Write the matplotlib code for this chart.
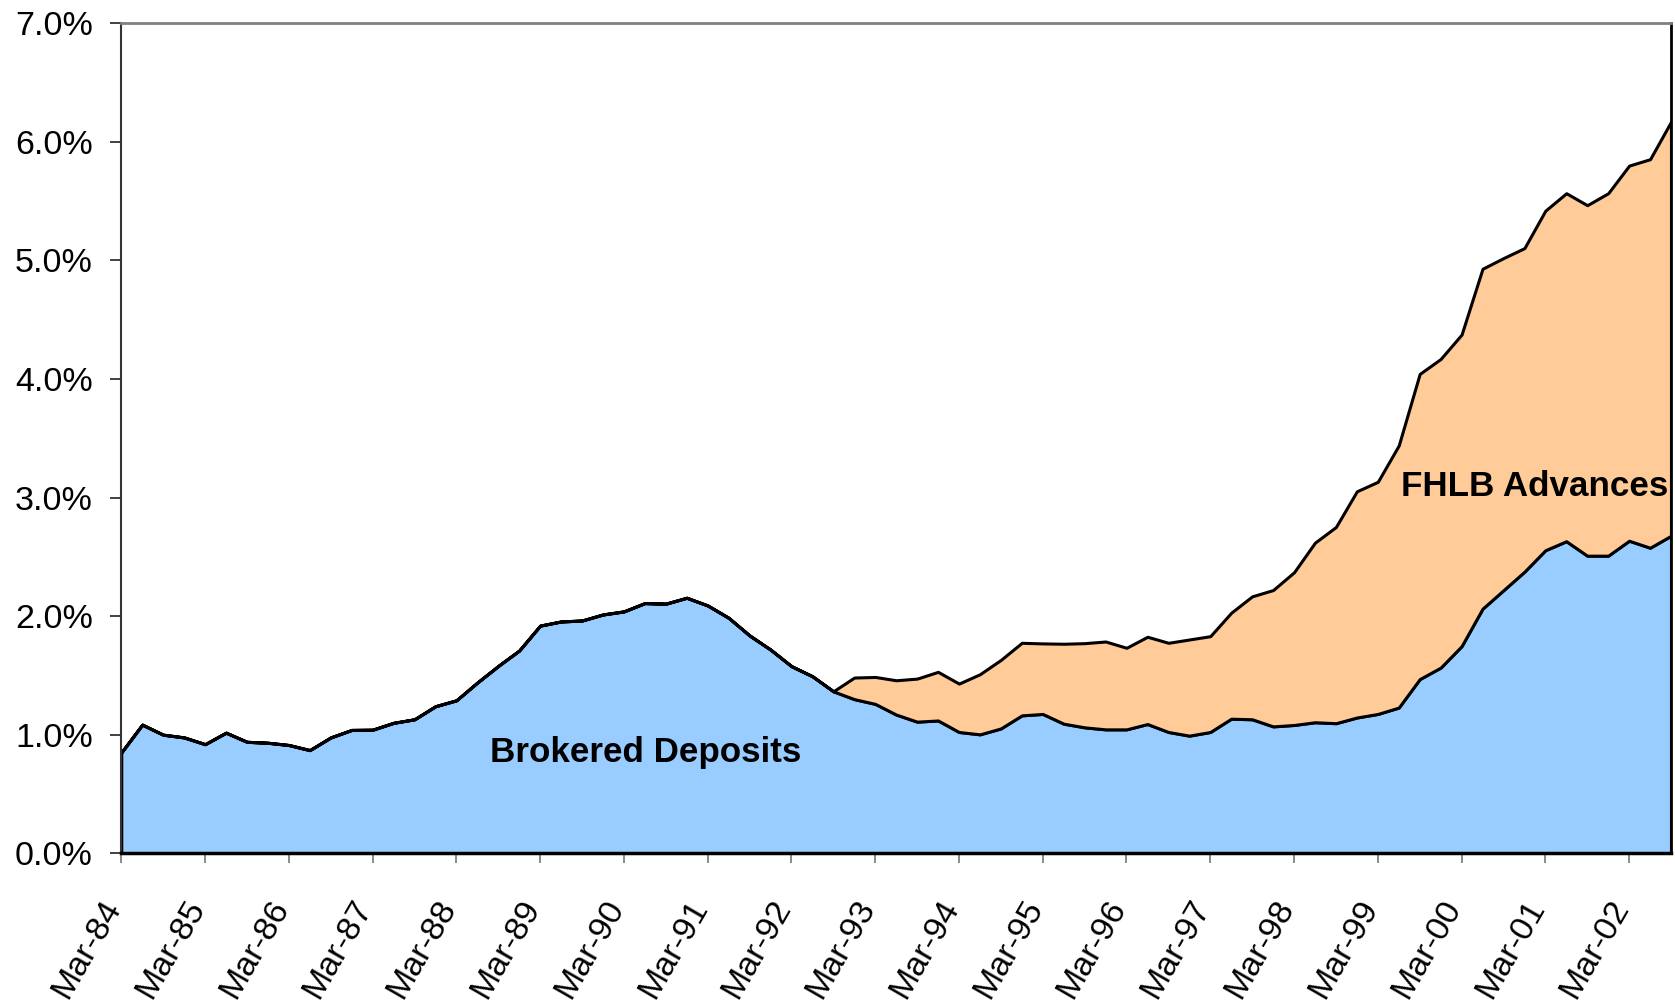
import matplotlib
matplotlib.use("Agg")
import matplotlib.pyplot as plt
import numpy as np

plt.rcParams['font.family'] = ['Liberation Sans', 'DejaVu Sans']

# Quarterly, Mar-84 .. Sep-02 (percent)
brokered = [0.85, 1.085, 1.00, 0.977, 0.92, 1.017, 0.94, 0.932, 0.913, 0.87,
            0.977, 1.04, 1.042, 1.10, 1.13, 1.24, 1.29, 1.44, 1.58, 1.71,
            1.92, 1.955, 1.963, 2.014, 2.04, 2.11, 2.105, 2.155, 2.09, 1.986,
            1.837, 1.718, 1.578, 1.493, 1.366, 1.30, 1.26, 1.17, 1.11, 1.12,
            1.023, 1.003, 1.053, 1.163, 1.175, 1.093, 1.062, 1.045, 1.045, 1.09,
            1.023, 0.992, 1.023, 1.135, 1.13, 1.07, 1.082, 1.105, 1.097, 1.145,
            1.175, 1.229, 1.469, 1.566, 1.747, 2.063, 2.219, 2.375, 2.556, 2.632,
            2.51, 2.51, 2.636, 2.577, 2.678]
total = [0.85, 1.085, 1.00, 0.977, 0.92, 1.017, 0.94, 0.932, 0.913, 0.87,
         0.977, 1.04, 1.042, 1.10, 1.13, 1.24, 1.29, 1.44, 1.58, 1.71,
         1.92, 1.955, 1.963, 2.014, 2.04, 2.11, 2.105, 2.155, 2.09, 1.986,
         1.837, 1.718, 1.578, 1.493, 1.366, 1.482, 1.487, 1.459, 1.473, 1.53,
         1.431, 1.51, 1.631, 1.775, 1.77, 1.767, 1.772, 1.786, 1.733, 1.826,
         1.775, 1.803, 1.831, 2.029, 2.167, 2.22, 2.37, 2.62, 2.752, 3.053,
         3.133, 3.44, 4.043, 4.169, 4.375, 4.93, 5.02, 5.104, 5.42, 5.567,
         5.466, 5.567, 5.80, 5.854, 6.17]
fhlb = [t - b for t, b in zip(total, brokered)]

tick_labels = ['Mar-84', 'Mar-85', 'Mar-86', 'Mar-87', 'Mar-88', 'Mar-89',
               'Mar-90', 'Mar-91', 'Mar-92', 'Mar-93', 'Mar-94', 'Mar-95',
               'Mar-96', 'Mar-97', 'Mar-98', 'Mar-99', 'Mar-00', 'Mar-01', 'Mar-02']
y_ticks = [0, 1, 2, 3, 4, 5, 6, 7]

x = np.arange(len(brokered))

fig = plt.figure(figsize=(16.75, 10.01), dpi=100)
ax = fig.add_axes([0.0724, 0.1476, 0.9252, 0.8291])

ax.stackplot(x, brokered, fhlb, colors=['#99CCFF', '#FFCC99'],
             edgecolor='black', linewidth=2.2)

ax.set_xlim(0, len(x) - 1)
ax.set_ylim(0, 7)
ax.set_yticks(y_ticks)
ax.set_yticklabels([f'{v:.1f}%' for v in y_ticks])
ax.set_xticks(np.arange(0, len(x), 4))
ax.set_xticklabels(tick_labels, rotation=60, ha='right', va='baseline',
                   rotation_mode='anchor')

ax.tick_params(axis='y', labelsize=24.5, length=7.9, width=1.3,
               color='#333333', pad=12.5)
ax.tick_params(axis='x', labelsize=24.5, length=7.2, width=1.3,
               color='#808080', pad=31)

ax.spines['left'].set_color('#333333')
ax.spines['left'].set_linewidth(1.5)
ax.spines['top'].set_color('#808080')
ax.spines['top'].set_linewidth(2)
ax.spines['right'].set_color('black')
ax.spines['right'].set_linewidth(2)
ax.spines['bottom'].set_color('black')
ax.spines['bottom'].set_linewidth(2.5)

ax.text(25.06, 0.85, 'Brokered Deposits', fontsize=25.2, fontweight='bold',
        ha='center', va='center')
ax.text(67.5, 3.09, 'FHLB Advances', fontsize=25.2, fontweight='bold',
        ha='center', va='center')

fig.savefig('out.png', dpi=100)
